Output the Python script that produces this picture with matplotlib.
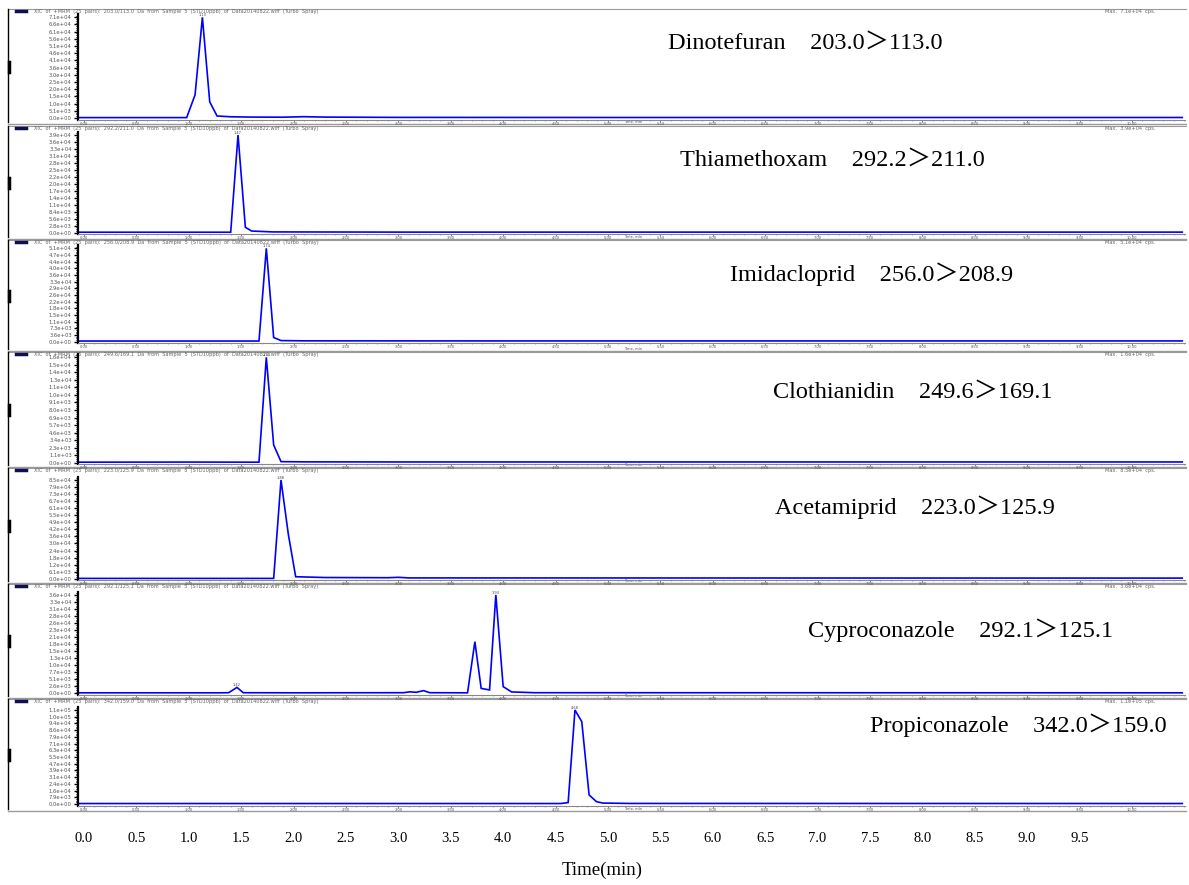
import matplotlib
matplotlib.use("Agg")
import matplotlib.pyplot as plt
from matplotlib.ticker import MultipleLocator, AutoMinorLocator

# ---------------- data ----------------
compounds = ["Dinotefuran", "Thiamethoxam", "Imidacloprid", "Clothianidin",
             "Acetamiprid", "Cyproconazole", "Propiconazole"]
transitions = ["203.0＞113.0", "292.2＞211.0", "256.0＞208.9", "249.6＞169.1",
               "223.0＞125.9", "292.1＞125.1", "342.0＞159.0"]
max_cps = [7.1e4, 3.9e4, 5.1e4, 1.6e4, 8.5e4, 3.6e4, 1.1e5]
peak_rt_labels = ["1.13", "1.47", "1.74", "1.74", "1.88", "3.93", "4.68"]

# time (min) and relative intensity (% of panel max)
t_dino = [-0.05, 0.50, 0.98, 1.06, 1.13, 1.20, 1.27, 1.40, 1.60, 1.90, 2.10, 2.30, 3.00, 5.00, 10.48]
i_dino = [0.4, 0.4, 0.4, 23, 100, 16, 2.0, 1.2, 0.9, 0.8, 1.3, 0.9, 0.6, 0.5, 0.5]

t_thia = [-0.05, 1.00, 1.40, 1.47, 1.54, 1.60, 1.80, 3.00, 10.48]
i_thia = [0.5, 0.5, 0.5, 100, 5.5, 1.7, 0.8, 0.6, 0.6]

t_imid = [-0.05, 1.00, 1.67, 1.74, 1.81, 1.88, 2.10, 4.00, 10.48]
i_imid = [0.5, 0.5, 0.5, 100, 4.3, 1.0, 0.7, 0.6, 0.6]

t_clot = [-0.05, 1.00, 1.67, 1.74, 1.81, 1.88, 2.10, 3.00, 10.48]
i_clot = [0.5, 0.6, 0.5, 100, 16.8, 1.0, 0.8, 0.7, 0.7]

t_acet = [-0.05, 1.00, 1.81, 1.88, 1.95, 2.02, 2.30, 2.90, 3.00, 3.10, 10.48]
i_acet = [0.3, 0.3, 0.3, 100, 45, 2.0, 1.2, 1.0, 1.4, 0.8, 0.6]

t_cypr = [-0.05, 1.30, 1.38, 1.46, 1.52, 2.00, 3.05, 3.11, 3.17, 3.24, 3.30,
          3.66, 3.73, 3.79, 3.87, 3.93, 4.00, 4.08, 4.30, 10.48]
i_cypr = [0.5, 0.5, 0.6, 6.0, 0.6, 0.5, 0.6, 1.5, 1.0, 2.7, 0.6,
          0.5, 52.5, 5.0, 3.4, 100, 6.8, 1.4, 0.6, 0.5]

t_prop = [-0.05, 2.00, 4.55, 4.62, 4.685, 4.75, 4.82, 4.89, 4.95, 5.20, 10.48]
i_prop = [0.5, 0.5, 0.5, 1.5, 100, 87.6, 9.6, 2.5, 1.0, 0.6, 0.5]

times = [t_dino, t_thia, t_imid, t_clot, t_acet, t_cypr, t_prop]
intens = [i_dino, i_thia, i_imid, i_clot, i_acet, i_cypr, i_prop]

x_ticks = [0.0, 0.5, 1.0, 1.5, 2.0, 2.5, 3.0, 3.5, 4.0, 4.5,
           5.0, 5.5, 6.0, 6.5, 7.0, 7.5, 8.0, 8.5, 9.0, 9.5]

# ---------------- layout (pixels) ----------------
W, H = 1189, 885
# header_y, peak_top_y, baseline_y, bottom_sep_y
geom = [(9, 17.3, 118, 124),
        (126, 135, 232.7, 239),
        (240, 248.3, 341.5, 351),
        (352, 357.3, 462.7, 467),
        (468, 480, 578.7, 583),
        (584, 595, 693.3, 698),
        (699, 710, 804, 811)]
label_xy = [(668, 43), (680, 160), (730, 274), (773, 392),
            (775, 507), (808, 630), (870, 725)]
ax_left_px, ax_right_px = 78, 1185
xlim = (-0.057, 10.506)

fig = plt.figure(figsize=(W / 100, H / 100), dpi=100)

# decoration layer
bg = fig.add_axes([0, 0, 1, 1], zorder=-5)
bg.set_xlim(0, W)
bg.set_ylim(H, 0)
bg.axis("off")

tiny = dict(family="DejaVu Sans", fontsize=2.6, color="#555555")
head = dict(family="DejaVu Sans", fontsize=3.6, color="#666666")
lab_font = ["Liberation Serif", "Noto Sans CJK SC"]

for k, (hy, py, by, sy) in enumerate(geom):
    bg.plot([8, 1186], [hy, hy], color="#9a9a9a", lw=0.8)
    bg.plot([8, 1186], [sy, sy], color="#9a9a9a", lw=1.0)
    bg.plot([8, 8], [hy, sy - 2], color="black", lw=1.0)
    mid = (hy + sy) / 2
    bg.plot([8.5, 8.5], [mid - 5, mid + 5], color="black", lw=2.5)
    bg.plot([16, 26], [hy + 1.5, hy + 1.5], color="#101050", lw=2.5)
    bg.text(34, hy + 2.3,
            "XIC  of  +MRM  (25  pairs):  %s  Da  from  Sample  5  (STD10ppb)  of  Data20140822.wiff  (Turbo  Spray)"
            % transitions[k].replace("＞", "/"), ha="left", va="center", **head)
    bg.text(1105, hy + 2.8, "Max.  %.1e  cps." % max_cps[k], ha="left", va="center", **head)
    bg.text(633, sy - 2.2, "Time, min", ha="center", va="center", **tiny)

    # data axes
    rng = by - py
    top_px = py - 3
    bot_px = by + 1.5
    ax = fig.add_axes([ax_left_px / W, 1 - bot_px / H,
                       (ax_right_px - ax_left_px) / W, (bot_px - top_px) / H])
    ax.set_facecolor("none")
    ax.plot(times[k], intens[k], color="#0000ff", lw=1.2, solid_joinstyle="miter")
    ax.set_xlim(*xlim)
    ax.set_ylim(-1.5 / rng * 100, 100 + 3 / rng * 100)
    for s in ("top", "right"):
        ax.spines[s].set_visible(False)
    ax.spines["left"].set_linewidth(1.6)
    ax.spines["left"].set_color("black")
    ax.spines["bottom"].set_color("#888888")
    ax.spines["bottom"].set_linewidth(0.8)
    ax.xaxis.set_major_locator(MultipleLocator(0.5))
    ax.xaxis.set_minor_locator(AutoMinorLocator(5))
    ax.yaxis.set_major_locator(MultipleLocator(100 / 14))
    ax.yaxis.set_minor_locator(AutoMinorLocator(4))
    ax.tick_params(axis="y", which="major", length=3, width=1.0, color="black",
                   labelsize=3.8, labelcolor="#555555", pad=1.5)
    ax.tick_params(axis="y", which="minor", length=1.5, width=0.7, color="black")
    ax.tick_params(axis="x", which="major", length=1.5, width=0.6, color="#666666",
                   labelsize=2.6, labelcolor="#555555", pad=0.1)
    ax.tick_params(axis="x", which="minor", length=1, width=0.5, color="#888888")
    yt = ax.get_yticks()
    ax.set_yticks([v for v in yt if -0.1 <= v <= 100.5])
    ax.set_yticklabels(["%.1e" % (v / 100 * max_cps[k]) for v in ax.get_yticks()])
    xt = [v for v in ax.get_xticks() if 0 <= v <= 10.0]
    ax.set_xticks(xt)
    ax.set_xticklabels(["%.2f" % v for v in xt])

    # peak label
    pk = intens[k].index(max(intens[k]))
    ax.text(times[k][pk], 100.5, peak_rt_labels[k], ha="center", va="bottom",
            fontsize=2.6, color="#444444", family="DejaVu Sans", clip_on=False)
    if k == 5:
        ax.text(1.46, 6.5, "1.42", ha="center", va="bottom", fontsize=2.6,
                color="#444444", family="DejaVu Sans")

    # compound label
    lx, ly = label_xy[k]
    bg.text(lx, ly, compounds[k] + "    " + transitions[k], ha="left", va="center",
            fontsize=17.5, family=lab_font, color="black")

# outer time axis
axo = fig.add_axes([ax_left_px / W, 1 - 822 / H, (ax_right_px - ax_left_px) / W, 0.0005])
axo.set_xlim(*xlim)
axo.set_xticks(x_ticks)
axo.set_xticklabels(["%.1f" % v for v in x_ticks], family="Liberation Serif", fontsize=10.5)
axo.set_yticks([])
for s in axo.spines.values():
    s.set_visible(False)
axo.tick_params(axis="x", length=0, pad=7)
fig.text(602 / W, 1 - 870 / H, "Time(min)", ha="center", va="center",
         family="Liberation Serif", fontsize=13.5)

fig.savefig("out.png", dpi=100)
